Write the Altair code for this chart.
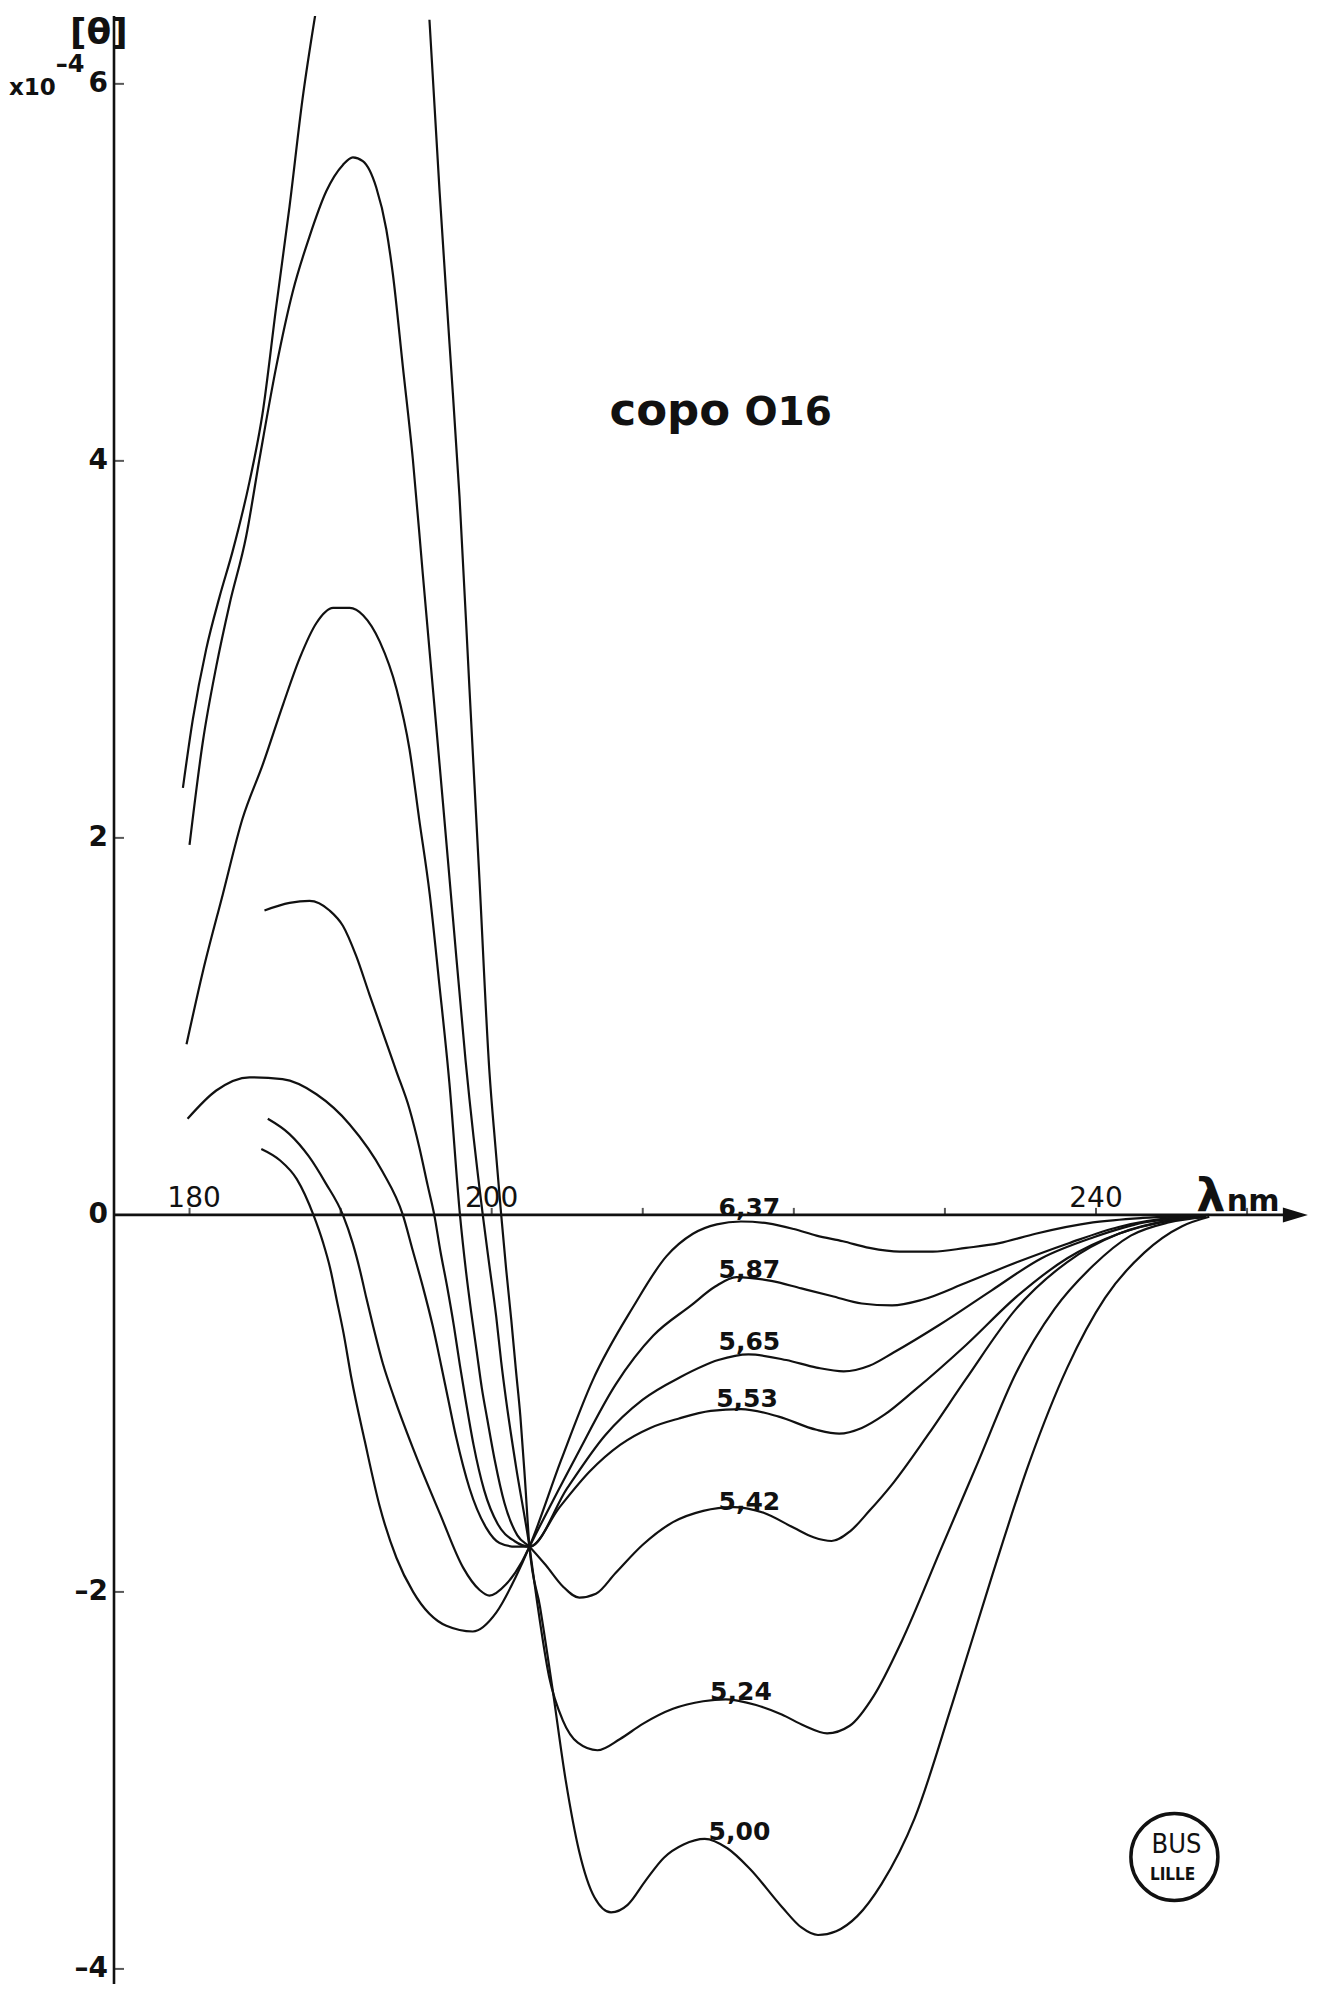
import altair as alt
import pandas as pd

# ---- curves: (wavelength nm, [theta] x 1e-4) ----
ph_637 = [(184.75, 0.35), (185.98, 0.29), (187.1, 0.19), (188.2, 0.0), (188.85, -0.15), (189.3, -0.28),
          (189.74, -0.45), (190.2, -0.63), (190.7, -0.86), (191.6, -1.20), (192.6, -1.55), (193.7, -1.82),
          (194.8, -2.00), (197.0, -2.18), (198.75, -2.21), (200.3, -2.11), (201.6, -1.92), (202.5, -1.76),
          (204.6, -1.30), (206.7, -0.875), (209.35, -0.49), (211.56, -0.22), (213.32, -0.10), (214.9, -0.05),
          (216.5, -0.035), (218.3, -0.045), (220.0, -0.075), (221.5, -0.11), (223.25, -0.14), (225.0, -0.175),
          (227.0, -0.195), (229.2, -0.195), (231.4, -0.175), (233.6, -0.15), (236.0, -0.10), (239.8, -0.04),
          (243.1, -0.016), (246.0, -0.005), (247.5, 0.0)]
ph_587 = [(185.18, 0.51), (186.6, 0.43), (187.9, 0.31), (189.0, 0.17), (190.15, 0.0), (190.8, -0.15),
          (191.3, -0.30), (191.7, -0.44), (192.15, -0.59), (192.8, -0.79), (193.5, -0.96), (194.8, -1.24),
          (196.6, -1.59), (198.1, -1.87), (199.2, -1.99), (199.85, -2.02), (200.95, -1.96), (202.0, -1.84),
          (202.5, -1.76), (205.6, -1.28), (208.2, -0.90), (210.7, -0.64), (213.2, -0.48), (214.8, -0.38),
          (216.2, -0.33), (218.5, -0.35), (220.5, -0.39), (222.5, -0.43), (224.5, -0.47), (226.5, -0.48),
          (228.5, -0.45), (231.4, -0.36), (234.8, -0.25), (238.2, -0.15), (241.5, -0.064), (244.9, -0.016),
          (247.0, -0.005)]
ph_565 = [(179.87, 0.51), (181.77, 0.66), (183.97, 0.73), (186.15, 0.72), (188.4, 0.64), (190.6, 0.48),
          (192.77, 0.23), (194.12, 0.0), (194.78, -0.19), (195.44, -0.38), (196.1, -0.59), (196.66, -0.80),
          (197.1, -0.97), (197.65, -1.18), (198.53, -1.45), (199.64, -1.66), (200.52, -1.74), (201.6, -1.76),
          (202.5, -1.76), (205.0, -1.45), (207.5, -1.17), (210.0, -0.98), (212.5, -0.86), (215.0, -0.77),
          (217.0, -0.74), (219.5, -0.77), (221.5, -0.81), (223.3, -0.83), (225.0, -0.80), (226.6, -0.73),
          (229.7, -0.58), (233.1, -0.40), (236.4, -0.23), (239.8, -0.12), (243.2, -0.04), (246.8, -0.01)]
ph_553 = [(184.96, 1.615), (186.62, 1.655), (187.94, 1.666), (189.27, 1.615), (190.15, 1.534), (191.03, 1.374),
          (191.91, 1.169), (192.8, 0.966), (193.68, 0.764), (194.56, 0.562), (195.22, 0.355), (195.77, 0.154),
          (196.2, 0.0), (196.6, -0.19), (197.05, -0.38), (197.5, -0.59), (197.9, -0.80), (198.25, -0.97),
          (198.8, -1.22), (199.5, -1.46), (200.4, -1.64), (201.5, -1.73), (202.5, -1.76), (204.5, -1.55),
          (206.5, -1.36), (208.5, -1.22), (210.5, -1.13), (212.4, -1.08), (214.5, -1.04), (216.5, -1.03),
          (219.0, -1.07), (221.5, -1.14), (223.0, -1.16), (224.5, -1.13), (226.0, -1.06), (228.0, -0.93),
          (231.4, -0.69), (234.8, -0.43), (238.1, -0.23), (241.5, -0.10), (244.9, -0.03), (247.0, -0.01)]
ph_542 = [(179.8, 0.905), (180.88, 1.29), (182.2, 1.70), (183.5, 2.10), (184.85, 2.39), (186.2, 2.71),
          (187.3, 2.955), (188.4, 3.14), (189.5, 3.22), (190.6, 3.22), (191.5, 3.18), (192.6, 3.04),
          (193.7, 2.79), (194.56, 2.47), (195.2, 2.10), (195.9, 1.70), (196.5, 1.25), (197.2, 0.70),
          (197.9, 0.0), (198.3, -0.30), (198.65, -0.52), (199.0, -0.72), (199.35, -0.92), (199.7, -1.08),
          (200.2, -1.30), (200.85, -1.53), (201.7, -1.70), (202.5, -1.76), (203.6, -1.86), (204.7, -1.97),
          (205.8, -2.03), (206.9, -2.01), (208.2, -1.90), (210.0, -1.75), (212.0, -1.63), (214.0, -1.57),
          (216.0, -1.55), (218.0, -1.58), (220.0, -1.66), (221.3, -1.71), (222.5, -1.73), (223.7, -1.68),
          (225.0, -1.57), (226.6, -1.42), (228.85, -1.17), (231.4, -0.87), (234.7, -0.50), (238.1, -0.25),
          (241.5, -0.10), (244.8, -0.03), (247.2, -0.01)]
ph_524 = [(180.0, 1.963), (180.88, 2.51), (181.77, 2.91), (182.65, 3.24), (183.75, 3.60), (184.63, 4.01),
          (185.74, 4.50), (186.84, 4.90), (187.94, 5.19), (189.05, 5.43), (190.15, 5.57), (190.81, 5.61),
          (191.47, 5.59), (192.36, 5.45), (193.02, 5.23), (193.46, 4.99), (194.12, 4.50), (194.78, 4.01),
          (195.44, 3.40), (196.11, 2.79), (196.77, 2.19), (197.43, 1.58), (198.27, 0.82), (199.41, 0.0),
          (199.85, -0.27), (200.3, -0.54), (200.63, -0.78), (200.95, -0.98), (201.6, -1.33), (202.5, -1.76),
          (203.0, -2.05), (203.8, -2.45), (204.7, -2.68), (205.7, -2.80), (207.0, -2.84), (208.5, -2.78),
          (210.0, -2.70), (212.0, -2.62), (214.0, -2.58), (215.5, -2.57), (217.5, -2.60), (219.2, -2.65),
          (220.7, -2.71), (222.2, -2.75), (223.7, -2.71), (225.3, -2.55), (227.15, -2.26), (229.7, -1.78),
          (232.2, -1.31), (234.7, -0.84), (237.25, -0.50), (239.8, -0.27), (242.3, -0.11), (244.8, -0.04),
          (247.3, -0.01)]
ph_500_up = [(179.56, 2.265), (180.22, 2.63), (181.1, 3.0), (181.99, 3.28), (182.85, 3.52), (183.97, 3.89),
             (184.83, 4.25), (185.74, 4.82), (186.62, 5.35), (187.48, 5.92), (188.39, 6.40)]
ph_500_down = [(195.88, 6.34), (196.55, 5.43), (197.21, 4.62), (197.87, 3.81), (198.53, 2.79), (199.19, 1.78),
               (199.85, 0.76), (200.25, 0.36), (200.63, 0.0), (200.96, -0.29), (201.3, -0.56), (201.6, -0.82),
               (201.9, -1.07), (202.2, -1.40), (202.5, -1.76), (203.2, -2.08), (204.0, -2.50), (204.9, -3.00),
               (205.8, -3.38), (206.8, -3.62), (207.9, -3.70), (209.0, -3.66), (210.2, -3.53), (211.4, -3.41),
               (212.7, -3.34), (214.1, -3.31), (215.6, -3.36), (217.1, -3.47), (219.2, -3.67), (220.5, -3.78),
               (221.6, -3.82), (222.8, -3.80), (224.2, -3.72), (225.8, -3.55), (228.0, -3.20), (230.5, -2.59),
               (233.1, -1.92), (235.6, -1.31), (238.1, -0.81), (240.6, -0.44), (243.2, -0.20), (245.7, -0.06),
               (247.5, -0.01)]

# curve labels (pH)
label_text = ["6,37", "5,87", "5,65", "5,53", "5,42", "5,24", "5,00"]
label_lam = [217.06, 217.06, 217.06, 216.9, 217.06, 216.5, 216.4]
label_val = [-0.005, -0.333, -0.717, -1.021, -1.567, -2.572, -3.314]

# axes
y_ticks = [6, 4, 2, -2, -4]
y_tick_labels = ["6", "4", "2", "0", "\u20132", "\u20134"]
y_tick_label_vals = [6, 4, 2, 0, -2, -4]
x_ticks = [180, 190, 200, 210, 220, 230, 240, 250]
x_tick_labels = ["180", "200", "240"]
x_tick_label_vals = [180.3, 200, 240]

X_DOMAIN = [175, 254.1]
Y_DOMAIN = [-4.08, 6.36]

segments = [("6,37", ph_637), ("5,87", ph_587), ("5,65", ph_565), ("5,53", ph_553),
            ("5,42", ph_542), ("5,24", ph_524), ("5,00a", ph_500_up), ("5,00b", ph_500_down)]
rows = []
for name, pts in segments:
    for lam, val in pts:
        rows.append({"seg": name, "lam": lam, "val": val})
curves_df = pd.DataFrame(rows)

xs = alt.Scale(domain=X_DOMAIN, nice=False, zero=False)
ys = alt.Scale(domain=Y_DOMAIN, nice=False, zero=False)


def X(field="lam"):
    return alt.X(f"{field}:Q", scale=xs, axis=None)


def Y(field="val"):
    return alt.Y(f"{field}:Q", scale=ys, axis=None)


INK = "#111111"
FONT = "DejaVu Sans"

lines = alt.Chart(curves_df).mark_line(
    interpolate="monotone", color=INK, strokeWidth=2.2, clip=True
).encode(x=X(), y=Y(), detail="seg:N", order="lam:Q")

# y axis line
yaxis_df = pd.DataFrame({"lam": [X_DOMAIN[0]], "val": [Y_DOMAIN[0]], "val2": [Y_DOMAIN[1]]})
yaxis = alt.Chart(yaxis_df).mark_rule(color=INK, strokeWidth=2.6).encode(
    x=X(), y=Y(), y2="val2:Q")

# x axis line + arrow
xaxis_df = pd.DataFrame({"lam": [X_DOMAIN[0]], "lam2": [252.6], "val": [0.0]})
xaxis = alt.Chart(xaxis_df).mark_rule(color=INK, strokeWidth=2.6).encode(
    x=X(), x2="lam2:Q", y=Y())
arrow_df = pd.DataFrame({"lam": [253.2], "val": [0.0]})
arrow = alt.Chart(arrow_df).mark_point(
    shape="M -1 -0.6 L 1 0 L -1 0.6 Z", filled=True, size=625, color=INK, opacity=1
).encode(x=X(), y=Y())

xt_df = pd.DataFrame({"lam": x_ticks, "val": [0.0] * len(x_ticks)})
xticks = alt.Chart(xt_df).mark_tick(orient="vertical", size=7, thickness=2, yOffset=-3.5, color=INK).encode(
    x=X(), y=Y())
yt_df = pd.DataFrame({"lam": [X_DOMAIN[0]] * len(y_ticks), "val": y_ticks})
yticks = alt.Chart(yt_df).mark_tick(orient="horizontal", size=10, thickness=2, xOffset=5, color=INK).encode(
    x=X(), y=Y())

ylab_df = pd.DataFrame({"lam": [X_DOMAIN[0]] * len(y_tick_labels), "val": y_tick_label_vals,
                        "t": y_tick_labels})
ylabels = alt.Chart(ylab_df).mark_text(
    align="right", baseline="middle", dx=-6, fontSize=28, fontWeight="bold", font=FONT, color=INK
).encode(x=X(), y=Y(), text="t:N")

xlab_df = pd.DataFrame({"lam": x_tick_label_vals, "val": [0.0] * 3, "t": x_tick_labels})
xlabels = alt.Chart(xlab_df).mark_text(
    align="center", baseline="alphabetic", dy=-8, fontSize=28, font=FONT, color=INK
).encode(x=X(), y=Y(), text="t:N")

lam_df = pd.DataFrame({"lam": [247.6], "val": [0.0], "t": ["\u03bb"]})
lam_txt = alt.Chart(lam_df).mark_text(
    align="center", baseline="alphabetic", dy=-4, fontSize=46, fontWeight="bold",
    font=FONT, color=INK).encode(x=X(), y=Y(), text="t:N")
nm_df = pd.DataFrame({"lam": [250.4], "val": [0.0], "t": ["nm"]})
nm_txt = alt.Chart(nm_df).mark_text(
    align="center", baseline="alphabetic", dy=-4, fontSize=30, fontWeight="bold",
    font=FONT, color=INK).encode(x=X(), y=Y(), text="t:N")

# y axis title [θ] x10^-4
theta_df = pd.DataFrame({"lam": [174.0], "val": [6.27], "t": ["[\u03b8]"]})
theta_txt = alt.Chart(theta_df).mark_text(
    align="center", baseline="middle", fontSize=36, fontWeight="bold",
    font=FONT, color=INK).encode(x=X(), y=Y(), text="t:N")
x10_df = pd.DataFrame({"lam": [169.6], "val": [5.98], "t": ["x10"]})
x10_txt = alt.Chart(x10_df).mark_text(
    align="center", baseline="middle", fontSize=23, fontWeight="bold",
    font=FONT, color=INK).encode(x=X(), y=Y(), text="t:N")
exp_df = pd.DataFrame({"lam": [172.1], "val": [6.10], "t": ["\u20134"]})
exp_txt = alt.Chart(exp_df).mark_text(
    align="center", baseline="middle", fontSize=24, fontWeight="bold",
    font=FONT, color=INK).encode(x=X(), y=Y(), text="t:N")

# pH labels
lab_df = pd.DataFrame({"lam": label_lam, "val": label_val, "t": label_text})
labels = alt.Chart(lab_df).mark_text(
    align="center", baseline="alphabetic", fontSize=25, fontWeight="bold", font=FONT, color=INK
).encode(x=X(), y=Y(), text="t:N")

# title "copo O16"
copo_df = pd.DataFrame({"lam": [207.8], "val": [4.19], "t": ["copo"]})
copo_txt = alt.Chart(copo_df).mark_text(
    align="left", baseline="alphabetic", fontSize=45, fontWeight="bold", font=FONT, color=INK
).encode(x=X(), y=Y(), text="t:N")
o16_df = pd.DataFrame({"lam": [216.73], "val": [4.19], "t": ["O16"]})
o16_txt = alt.Chart(o16_df).mark_text(
    align="left", baseline="alphabetic", fontSize=39, fontWeight="bold", font=FONT, color=INK
).encode(x=X(), y=Y(), text="t:N")

# library stamp
stamp_df = pd.DataFrame({"lam": [245.19], "val": [-3.406]})
stamp = alt.Chart(stamp_df).mark_point(
    shape="circle", size=7569, filled=False, strokeWidth=3.5, color=INK, opacity=1
).encode(x=X(), y=Y())
stamp_t_df = pd.DataFrame({"lam": [245.33, 245.07], "val": [-3.34, -3.50], "t": ["BUS", "LILLE"]})
stamp_bus = alt.Chart(stamp_t_df.iloc[[0]]).mark_text(
    align="center", baseline="middle", fontSize=27, font="DejaVu Sans Condensed", color=INK
).encode(x=X(), y=Y(), text="t:N")
stamp_lille = alt.Chart(stamp_t_df.iloc[[1]]).mark_text(
    align="center", baseline="middle", fontSize=17, fontWeight="bold", font="DejaVu Sans Condensed", color=INK
).encode(x=X(), y=Y(), text="t:N")

chart = alt.layer(
    yaxis, xaxis, arrow, xticks, yticks, ylabels, xlabels, lam_txt, nm_txt,
    theta_txt, x10_txt, exp_txt, lines, labels, copo_txt, o16_txt, stamp, stamp_bus, stamp_lille
).properties(
    width=1195, height=1968,
    autosize=alt.AutoSizeParams(type="none"),
    padding={"left": 106, "top": 8, "right": 0, "bottom": 0},
    background="white",
).configure_view(stroke=None)

chart.save("out.html", embed_options={"renderer": "svg", "actions": False})
